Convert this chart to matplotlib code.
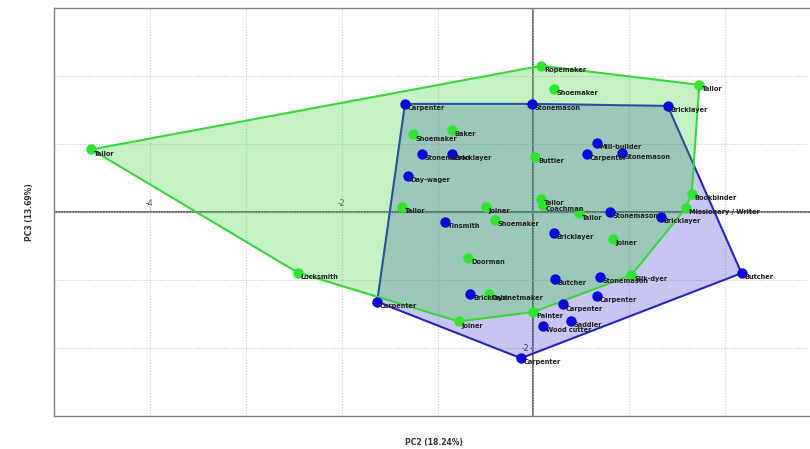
import numpy as np
import matplotlib.pyplot as plt

# group 1 (green)
g_names = ['Tailor', 'Ropemaker', 'Shoemaker', 'Tailor', 'Baker', 'Shoemaker', 'Buttler',
           'Tailor', 'Joiner', 'Tailor', 'Coachman', 'Tailor', 'Bookbinder',
           'Missionary / Writer', 'Shoemaker', 'Joiner', 'Doorman', 'Locksmith',
           'Silk-dyer', 'Cabinetmaker', 'Painter', 'Joiner']
g_x = [-4.61, 0.08, 0.21, 1.73, -0.85, -1.26, 0.02, -1.375, -0.50, 0.08, 0.10, 0.48, 1.65,
       1.59, -0.40, 0.83, -0.68, -2.46, 1.02, -0.46, 0.00, -0.78]
g_y = [0.92, 2.15, 1.81, 1.87, 1.21, 1.14, 0.81, 0.07, 0.07, 0.19, 0.10, -0.02, 0.27,
       0.06, -0.12, -0.39, -0.68, -0.89, -0.93, -1.21, -1.47, -1.61]

# group 2 (blue)
b_names = ['Carpenter', 'Stonemason', 'Bricklayer', 'Stonemason', 'Bricklayer', 'Day-wager',
           'Mill-builder', 'Carpenter', 'Stonemason', 'Tinsmith', 'Stonemason', 'Bricklayer',
           'Bricklayer', 'Butcher', 'Stonemason', 'Butcher', 'Bricklayer', 'Carpenter',
           'Carpenter', 'Saddler', 'Wood cutter', 'Carpenter', 'Carpenter']
b_x = [-1.34, -0.02, 1.40, -1.16, -0.85, -1.31, 0.66, 0.56, 0.92, -0.92, 0.80, 1.33,
       0.21, 0.22, 0.69, 2.17, -0.66, 0.66, 0.31, 0.39, 0.10, -1.63, -0.13]
b_y = [1.59, 1.59, 1.56, 0.86, 0.86, 0.53, 1.02, 0.86, 0.87, -0.15, 0.00, -0.07,
       -0.31, -0.99, -0.96, -0.90, -1.20, -1.24, -1.36, -1.60, -1.67, -1.32, -2.15]

x_label = 'PC2 (18.24%)'
y_label = 'PC3 (13.69%)'


def convex_hull(xs, ys):
    pts = sorted(set(zip(xs, ys)))

    def cross(o, a, b):
        return (a[0] - o[0]) * (b[1] - o[1]) - (a[1] - o[1]) * (b[0] - o[0])

    lower, upper = [], []
    for p in pts:
        while len(lower) >= 2 and cross(lower[-2], lower[-1], p) <= 0:
            lower.pop()
        lower.append(p)
    for p in reversed(pts):
        while len(upper) >= 2 and cross(upper[-2], upper[-1], p) <= 0:
            upper.pop()
        upper.append(p)
    return np.array(lower[:-1] + upper[:-1])


fig = plt.figure(figsize=(8.1, 4.49), dpi=100)
ax = fig.add_axes([0.0667, 0.0735, 0.947, 0.9087])
ax.set_xlim(-5, 3)
ax.set_ylim(-3, 3)

# grid every unit, dotted
ax.set_xticks(np.arange(-5, 4))
ax.set_yticks(np.arange(-3, 4))
ax.grid(True, color='#cccccc', linestyle=(0, (1, 1.5)), linewidth=0.8)
ax.tick_params(length=0, labelbottom=False, labelleft=False)
for s in ax.spines.values():
    s.set_color('#808080')
    s.set_linewidth(1.0)
ax.axhline(0, color='#707070', lw=1.4, zorder=1)
ax.axvline(0, color='#707070', lw=1.4, zorder=1)

# tick labels along the centre lines
sx = ax.secondary_xaxis(0.5)
sx.set_xticks([-4, -2])
sx.set_xticklabels(['-4', '-2'])
sx.tick_params(length=2, pad=1, labelsize=5.5, colors='#333333')
sx.spines['bottom'].set_visible(False)
sy = ax.secondary_yaxis(0.625)
sy.set_yticks([-2])
sy.set_yticklabels(['-2'])
sy.tick_params(left=True, labelleft=True, right=False, labelright=False,
               length=2, pad=1, labelsize=5.5, colors='#333333')
for s in sy.spines.values():
    s.set_visible(False)

# hulls
bh = convex_hull(b_x, b_y)
ax.fill(bh[:, 0], bh[:, 1], facecolor=(0.15, 0.10, 0.80), alpha=0.25, zorder=2)
ax.fill(bh[:, 0], bh[:, 1], facecolor='none', edgecolor='#2424c8', lw=1.5, zorder=2)
gh = convex_hull(g_x, g_y)
ax.fill(gh[:, 0], gh[:, 1], facecolor=(0.15, 0.82, 0.15), alpha=0.27, zorder=3)
ax.fill(gh[:, 0], gh[:, 1], facecolor='none', edgecolor='#38d838', lw=1.5, zorder=3)

# points and labels
ax.plot(b_x, b_y, 'o', color='#0a0ae0', ms=7.5, mec='none', zorder=4)
ax.plot(g_x, g_y, 'o', color='#2ee62e', ms=7.5, mec='none', zorder=4)
for names, xs, ys in [(b_names, b_x, b_y), (g_names, g_x, g_y)]:
    for n, x, y in zip(names, xs, ys):
        ax.annotate(n, (x, y), xytext=(2, -3), textcoords='offset points',
                    fontsize=4.8, fontweight='bold', color='#222222',
                    ha='left', va='center', zorder=5)

ax.set_xlabel(x_label, fontsize=5.5, fontweight='bold', color='#333333')
ax.set_ylabel(y_label, fontsize=5.5, fontweight='bold', color='#333333')
ax.xaxis.set_label_coords(0.495, -0.055)
ax.yaxis.set_label_coords(-0.026, 0.5)

fig.savefig('out.png', dpi=100)
